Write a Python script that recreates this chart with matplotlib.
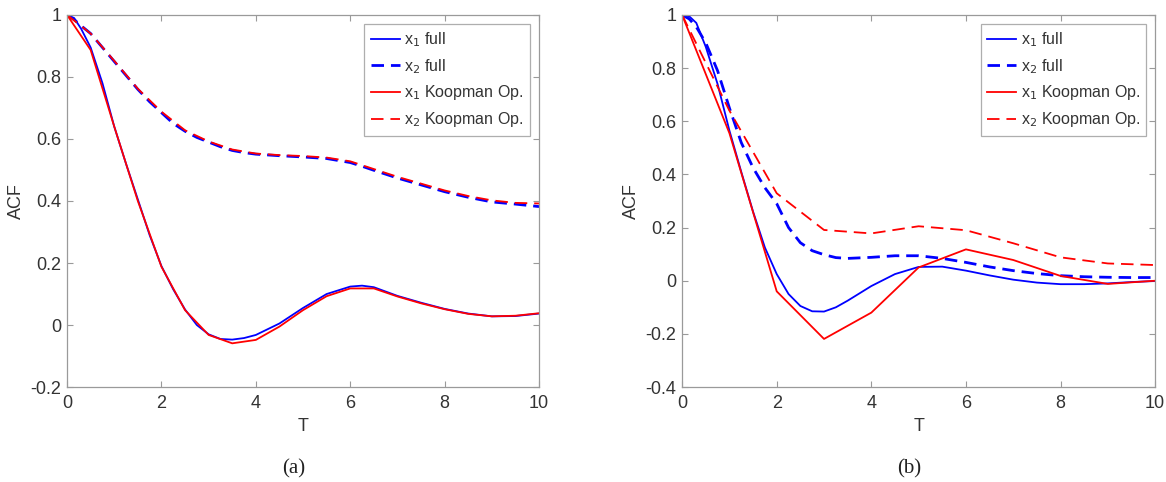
import matplotlib.pyplot as plt

plt.rcParams['font.family'] = ['Liberation Sans', 'DejaVu Sans']
plt.rcParams['lines.scale_dashes'] = False

# ---- panel (a) ----
a_t_full = [0, 0.15, 0.3, 0.5, 0.75, 1.0, 1.25, 1.5, 1.75, 2.0, 2.25, 2.5, 2.75, 3.0,
            3.25, 3.5, 3.75, 4.0, 4.5, 5.0, 5.5, 6.0, 6.25, 6.5, 7.0, 7.5, 8.0, 8.5,
            9.0, 9.5, 10.0]
a_x1_full = [1.0, 0.99, 0.955, 0.895, 0.78, 0.64, 0.52, 0.405, 0.29, 0.19, 0.115, 0.05, 0.0, -0.03,
             -0.045, -0.047, -0.042, -0.032, 0.005, 0.055, 0.1, 0.124, 0.127, 0.122, 0.094, 0.072, 0.052, 0.037,
             0.028, 0.029, 0.037]
a_x2_full = [1.0, 0.985, 0.965, 0.94, 0.895, 0.85, 0.805, 0.76, 0.72, 0.685, 0.65, 0.625, 0.605, 0.59,
             0.575, 0.563, 0.556, 0.551, 0.546, 0.542, 0.537, 0.524, 0.512, 0.499, 0.474, 0.452, 0.43, 0.412,
             0.397, 0.39, 0.382]

a_t_koop = [0, 0.5, 1.0, 1.5, 2.0, 2.5, 3.0, 3.5, 4.0, 4.5, 5.0, 5.5, 6.0, 6.5, 7.0,
            7.5, 8.0, 8.5, 9.0, 9.5, 10.0]
a_x1_koop = [1.0, 0.887, 0.64, 0.4, 0.188, 0.048, -0.032, -0.059, -0.048, -0.005, 0.048, 0.093, 0.118, 0.118, 0.092,
             0.07, 0.051, 0.036, 0.028, 0.03, 0.038]
a_x2_koop = [1.0, 0.94, 0.852, 0.762, 0.688, 0.628, 0.592, 0.566, 0.553, 0.548, 0.545, 0.54, 0.528, 0.503, 0.478,
             0.456, 0.434, 0.416, 0.402, 0.394, 0.392]

# ---- panel (b) ----
b_t_full = [0, 0.15, 0.3, 0.5, 0.75, 1.0, 1.25, 1.5, 1.75, 2.0, 2.25, 2.5, 2.75, 3.0, 3.25, 3.5,
            4.0, 4.5, 5.0, 5.5, 6.0, 6.5, 7.0, 7.5, 8.0, 8.5, 9.0, 9.5, 10.0]
b_x1_full = [1.0, 0.995, 0.97, 0.88, 0.74, 0.565, 0.41, 0.26, 0.125, 0.025, -0.05, -0.095, -0.115, -0.116, -0.1, -0.075,
             -0.02, 0.025, 0.052, 0.053, 0.038, 0.02, 0.004, -0.007, -0.013, -0.013, -0.01, -0.005, -0.001]
b_x2_full = [1.0, 0.985, 0.955, 0.895, 0.79, 0.65, 0.52, 0.425, 0.35, 0.29, 0.2, 0.143, 0.113, 0.098, 0.087, 0.084,
             0.088, 0.094, 0.094, 0.084, 0.069, 0.052, 0.038, 0.027, 0.019, 0.015, 0.013, 0.012, 0.012]

b_t_koop = [0, 1, 2, 3, 4, 5, 6, 7, 8, 9, 10]
b_x1_koop = [1.0, 0.555, -0.04, -0.219, -0.12, 0.05, 0.118, 0.078, 0.018, -0.012, 0.0]
b_x2_koop = [1.0, 0.64, 0.329, 0.191, 0.178, 0.205, 0.19, 0.141, 0.088, 0.065, 0.059]

labels = ['x$_1$ full', 'x$_2$ full', 'x$_1$ Koopman Op.', 'x$_2$ Koopman Op.']

fig = plt.figure(figsize=(11.66, 4.82), dpi=100)
ax1 = fig.add_axes([0.0575, 0.197, 0.4048, 0.772])
ax2 = fig.add_axes([0.585, 0.197, 0.4057, 0.772])

panels = [
    (ax1, a_t_full, a_x1_full, a_x2_full, a_t_koop, a_x1_koop, a_x2_koop, (-0.2, 1), '(a)'),
    (ax2, b_t_full, b_x1_full, b_x2_full, b_t_koop, b_x1_koop, b_x2_koop, (-0.4, 1), '(b)'),
]

frame = '#9a9a9a'
txt = '#333333'
for ax, tf, x1f, x2f, tk, x1k, x2k, ylim, tag in panels:
    ax.plot(tf, x1f, color='#0000ff', lw=1.3)
    ax.plot(tf, x2f, color='#0000ff', lw=2.0, dashes=(9, 5))
    ax.plot(tk, x1k, color='#ff0000', lw=1.3)
    ax.plot(tk, x2k, color='#ff0000', lw=1.3, dashes=(9, 5))
    ax.set_xlim(0, 10)
    ax.set_ylim(*ylim)
    ax.set_xticks([0, 2, 4, 6, 8, 10])
    yt = [round(v, 1) for v in [ylim[0] + 0.2 * i for i in range(int(round((1 - ylim[0]) / 0.2)) + 1)]]
    ax.set_yticks(yt)
    ax.set_yticklabels(['0' if v == 0 else ('1' if v == 1 else f'{v:g}') for v in yt])
    for s in ax.spines.values():
        s.set_color(frame)
        s.set_linewidth(0.9)
    ax.tick_params(direction='in', top=True, right=True, length=4, color=frame,
                   labelsize=13, labelcolor=txt, pad=4)
    ax.tick_params(axis='x', pad=6)
    ax.set_xlabel('T', fontsize=13, color=txt, labelpad=4)
    ax.set_ylabel('ACF', fontsize=13, color=txt, labelpad=4)
    leg = ax.legend(labels, loc='upper right', fontsize=11.5, frameon=True, fancybox=False,
                    handlelength=1.8, handletextpad=0.3, labelspacing=0.5,
                    borderpad=0.4, borderaxespad=0.55)
    leg.get_frame().set_edgecolor(frame)
    leg.get_frame().set_linewidth(0.9)
    for t in leg.get_texts():
        t.set_color(txt)
    ax.text(0.48, -0.22, tag, transform=ax.transAxes, ha='center', va='center',
            fontsize=15, family='Liberation Serif', color='#222222')

fig.savefig('out.png', dpi=100)
